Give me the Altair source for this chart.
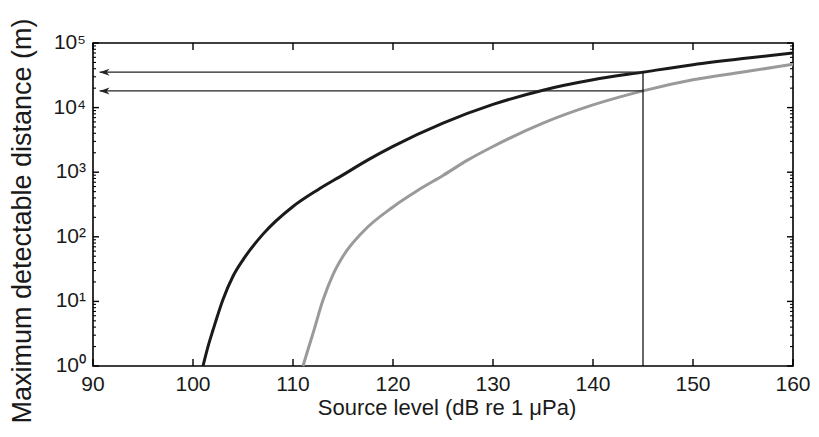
import altair as alt
import pandas as pd

# ---- data ----
black_x = [101.0, 101.5, 102.0, 103.0, 104.0, 105.0, 107.0, 110.0, 112.5, 115.0, 117.5, 120.0,
           125.0, 130.0, 135.0, 140.0, 145.0, 150.0, 155.0, 160.0]
black_y = [1.0, 2.0, 3.6, 10.7, 24.5, 44, 110, 295, 537, 910, 1550, 2510,
           5750, 11200, 18600, 26900, 35400, 46200, 57500, 70000]
gray_x = [111.0, 111.5, 112.0, 113.0, 114.0, 115.0, 117.0, 120.0, 122.5, 125.0, 127.5, 130.0,
          135.0, 140.0, 145.0, 150.0, 155.0, 160.0]
gray_y = [1.0, 1.8, 3.2, 10.5, 26, 50, 120, 290, 525, 890, 1550, 2500,
          5750, 11000, 18150, 26900, 35500, 46800]

marker_x = [145.0]
marker_y_bottom = [1.0]
marker_y_top = [35400.0]
arrow_y = [35400.0, 18150.0]
arrow_tip_x = [90.66, 90.66]
arrow_start_x = [145.0, 145.0]

x_domain = [90, 160]
y_domain = [1, 100000]
x_ticks = [90, 100, 110, 120, 130, 140, 150, 160]
x_labels = ["90", "100", "110", "120", "130", "140", "150", "160"]
y_major = [1, 10, 100, 1000, 10000, 100000]
y_labels = ["10\u2070", "10\u00b9", "10\u00b2", "10\u00b3", "10\u2074", "10\u2075"]
y_minor = [m * d for d in [1, 10, 100, 1000, 10000] for m in range(2, 10)]
x_title = ["Source level (dB re 1 \u03bcPa)"]
y_title = ["Maximum detectable distance (m)"]

FONT = "Liberation Sans"
TEXT = "#1a1a1a"
W, H = 700, 323

# tick lengths (pixels) converted to the scales' units
PX_PER_X = W / (x_domain[1] - x_domain[0])
PX_PER_DECADE = H / 5.0
XT_LEN = 10 ** (7 / PX_PER_DECADE)
YMAJ_LEN = 6 / PX_PER_X
YMIN_LEN = 3 / PX_PER_X

black_df = pd.DataFrame({"x": black_x, "y": black_y})
gray_df = pd.DataFrame({"x": gray_x, "y": gray_y})
marker_df = pd.DataFrame({"x": marker_x, "y": marker_y_bottom, "y2": marker_y_top})
arrow_df = pd.DataFrame({"x": arrow_tip_x, "x2": arrow_start_x, "y": arrow_y})
xlab_df = pd.DataFrame({"v": x_ticks, "label": x_labels})
ylab_df = pd.DataFrame({"v": y_major, "label": y_labels})
xtick_df = pd.DataFrame({
    "x": x_ticks * 2,
    "y": [y_domain[0]] * len(x_ticks) + [y_domain[1]] * len(x_ticks),
    "y2": [y_domain[0] * XT_LEN] * len(x_ticks) + [y_domain[1] / XT_LEN] * len(x_ticks),
})
ymaj_df = pd.DataFrame({
    "y": y_major * 2,
    "x": [x_domain[0]] * len(y_major) + [x_domain[1]] * len(y_major),
    "x2": [x_domain[0] + YMAJ_LEN] * len(y_major) + [x_domain[1] - YMAJ_LEN] * len(y_major),
})
ymin_df = pd.DataFrame({
    "y": y_minor * 2,
    "x": [x_domain[0]] * len(y_minor) + [x_domain[1]] * len(y_minor),
    "x2": [x_domain[0] + YMIN_LEN] * len(y_minor) + [x_domain[1] - YMIN_LEN] * len(y_minor),
})
xtitle_df = pd.DataFrame({"t": x_title})
ytitle_df = pd.DataFrame({"t": y_title})

xs = alt.Scale(domain=x_domain, nice=False, zero=False)
ys = alt.Scale(type="log", domain=y_domain, nice=False)

X = lambda f="x": alt.X(f"{f}:Q", scale=xs, axis=None)
Y = lambda f="y": alt.Y(f"{f}:Q", scale=ys, axis=None)

black_line = alt.Chart(black_df).mark_line(color="#1a1a1a", strokeWidth=3, interpolate="monotone").encode(
    x=X(), y=Y())
gray_line = alt.Chart(gray_df).mark_line(color="#9a9a9a", strokeWidth=3, interpolate="monotone").encode(
    x=X(), y=Y())
marker = alt.Chart(marker_df).mark_rule(color="#000", strokeWidth=1.2).encode(
    x=X(), y=Y(), y2="y2:Q")
arrows = alt.Chart(arrow_df).mark_rule(color="#222", strokeWidth=1.3).encode(
    x=X(), x2="x2:Q", y=Y())
heads = alt.Chart(arrow_df).mark_point(
    shape="M0,0 L2,-0.7 L1.4,0 L2,0.7 Z", size=100, filled=True, color="#222", opacity=1
).encode(x=X(), y=Y())

# inward tick marks along the frame
x_tick_rules = alt.Chart(xtick_df).mark_rule(color="#000", strokeWidth=1.4).encode(
    x=X(), y=Y(), y2="y2:Q")
y_major_rules = alt.Chart(ymaj_df).mark_rule(color="#000", strokeWidth=1.4).encode(
    x=X(), x2="x2:Q", y=Y())
y_minor_rules = alt.Chart(ymin_df).mark_rule(color="#000", strokeWidth=1.1).encode(
    x=X(), x2="x2:Q", y=Y())

# tick labels and titles as text marks
x_tick_labels = alt.Chart(xlab_df).mark_text(
    font=FONT, fontSize=21, color=TEXT, align="center", baseline="top", dy=8
).encode(x=X("v"), y=alt.value(H), text="label:N")
y_tick_labels = alt.Chart(ylab_df).mark_text(
    font=FONT, fontSize=21, color=TEXT, align="right", baseline="middle", dx=-7
).encode(y=Y("v"), x=alt.value(0), text="label:N")
x_title_mark = alt.Chart(xtitle_df).mark_text(
    font=FONT, fontSize=22, color=TEXT, align="center", baseline="middle"
).encode(x=alt.value(354), y=alt.value(H + 42), text="t:N")
y_title_mark = alt.Chart(ytitle_df).mark_text(
    font=FONT, fontSize=27, color=TEXT, align="center", baseline="middle", angle=270
).encode(x=alt.value(-70), y=alt.value(178), text="t:N")

chart = alt.layer(
    black_line, gray_line, marker, arrows, heads,
    x_tick_rules, y_major_rules, y_minor_rules,
    x_tick_labels, y_tick_labels, x_title_mark, y_title_mark,
).properties(
    width=W, height=H,
    padding={"left": 85, "top": 35, "right": 18, "bottom": 63},
    autosize=alt.AutoSizeParams(type="none"),
).configure_view(
    stroke="#000", strokeWidth=1.6
)

chart.save("out.html", embed_options={"renderer": "svg", "actions": False})
